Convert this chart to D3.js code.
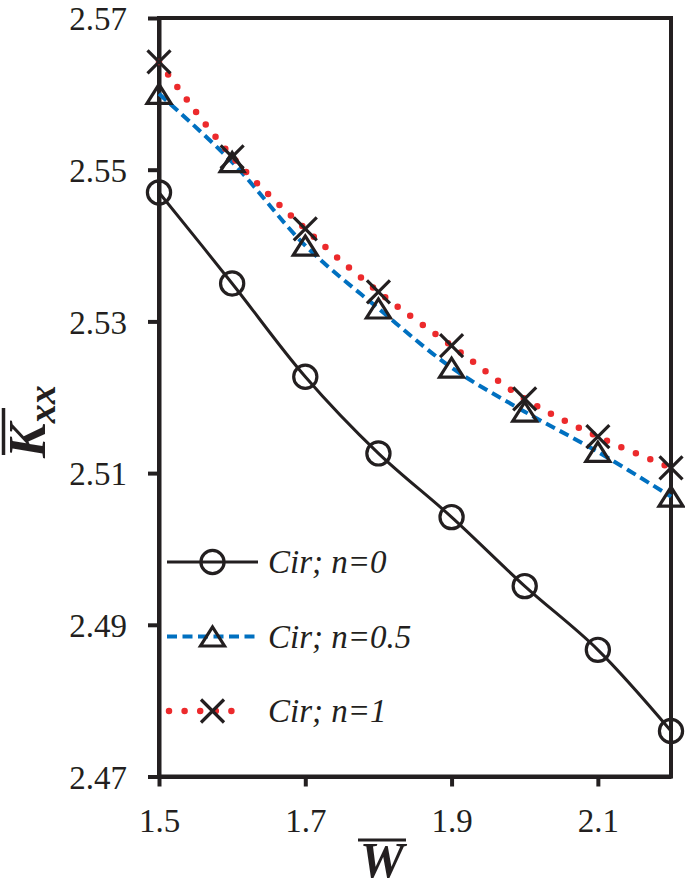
<!DOCTYPE html>
<html>
<head>
<meta charset="utf-8">
<script src="https://cdn.jsdelivr.net/npm/d3@7"></script>
<style>
  body { margin: 0; background: #fff; }
  svg { display: block; }
  text { font-family: "Liberation Serif", Tinos, "Times New Roman", Times, serif; }
</style>
</head>
<body>
<div id="container"></div>
<script>
// data
const wValues = [1.5, 1.6, 1.7, 1.8, 1.9, 2.0, 2.1, 2.2];
const kxxN0 = [2.5470, 2.5350, 2.5227, 2.5126, 2.5042, 2.4951, 2.4867, 2.4760];
const kxxN05 = [2.5600, 2.5510, 2.5400, 2.5317, 2.5239, 2.5181, 2.5128, 2.5069];
const kxxN1 = [2.5642, 2.5517, 2.5422, 2.5339, 2.5268, 2.5198, 2.5148, 2.5107];
const seriesNames = ["Cir; n=0", "Cir; n=0.5", "Cir; n=1"];
const xTicks = [1.5, 1.7, 1.9, 2.1];
const yTicks = [2.47, 2.49, 2.51, 2.53, 2.55, 2.57];

const ink = "#231f20";

let svg = d3.select("#container").
append("svg").
attr("width", 685).
attr("height", 890);

let x = d3.scaleLinear().domain([1.5, 2.2]).range([159, 671]);
let y = d3.scaleLinear().domain([2.47, 2.57]).range([776.5, 18]);

// series styles
let series = [
{ name: seriesNames[0], values: kxxN0, color: ink, width: 3, dash: null, cap: "butt", marker: "circle" },
{ name: seriesNames[1], values: kxxN05, color: "#0070c0", width: 4, dash: "10,5.5", cap: "butt", marker: "triangle" },
{ name: seriesNames[2], values: kxxN1, color: "#ec2a2c", width: 6.5, dash: "0,15.6", cap: "round", marker: "cross" }];


function markerPath(type) {
  if (type === "triangle") return "M-12,9.5L12,9.5L0,-9.5Z";
  if (type === "cross") return "M-11.5,-11.5L11.5,11.5M-11.5,11.5L11.5,-11.5";
  return null;
}

function drawMarker(g, type) {
  if (type === "circle") {
    g.append("circle").attr("r", 11.6).
    attr("fill", "none").attr("stroke", ink).attr("stroke-width", 3.2);
  } else {
    g.append("path").attr("d", markerPath(type)).
    attr("fill", "none").attr("stroke", ink).attr("stroke-width", 3.2).
    attr("stroke-linejoin", "miter");
  }
}

// axes
let xAxis = d3.axisBottom(x).
tickValues(xTicks).
tickSize(10).
tickSizeOuter(0).
tickFormat(d3.format(".1f"));

let yAxis = d3.axisLeft(y).
tickValues(yTicks).
tickSize(11).
tickSizeOuter(0).
tickFormat(d3.format(".2f"));

let gx = svg.append("g").
attr("transform", "translate(0,776.5)").
call(xAxis);

let gy = svg.append("g").
attr("transform", "translate(159,0)").
call(yAxis);

[gx, gy].forEach(g => {
  g.attr("font-family", null).attr("font-size", null);
  g.selectAll("path, line").attr("stroke", ink).attr("stroke-width", 4);
  g.selectAll("text").
  attr("fill", ink).
  style("font-size", "33px");
});

gx.selectAll(".tick text").attr("y", 32).attr("dy", "0.71em");
gy.selectAll(".tick text").attr("x", -32).attr("dy", "0.36em");

// frame
svg.append("rect").
attr("x", x(1.5)).
attr("y", y(2.57)).
attr("width", x(2.2) - x(1.5)).
attr("height", y(2.47) - y(2.57)).
attr("fill", "none").
attr("stroke", ink).
attr("stroke-width", 4);

// lines
let line = d3.line().
x((d, i) => x(wValues[i])).
y(d => y(d)).
curve(d3.curveCatmullRom.alpha(0.5));

series.forEach(s => {
  svg.append("path").
  datum(s.values).
  attr("d", line).
  attr("fill", "none").
  attr("stroke", s.color).
  attr("stroke-width", s.width).
  attr("stroke-dasharray", s.dash).
  attr("stroke-linecap", s.cap);
});

// markers
series.forEach(s => {
  svg.append("g").
  selectAll("g").
  data(s.values).
  enter().
  append("g").
  attr("transform", (d, i) => "translate(" + x(wValues[i]) + "," + y(d) + ")").
  each(function () {drawMarker(d3.select(this), s.marker);});
});

// legend
let legend = svg.append("g").attr("transform", "translate(0,562)");
series.forEach((s, i) => {
  let row = legend.append("g").attr("transform", "translate(0," + i * 74.5 + ")");
  let x0 = s.cap === "round" ? 169 : 167;
  let x1 = s.cap === "round" ? 247 : 258;
  row.append("line").
  attr("x1", x0).attr("x2", x1).
  attr("stroke", s.color).
  attr("stroke-width", s.width).
  attr("stroke-dasharray", s.dash).
  attr("stroke-linecap", s.cap);
  drawMarker(row.append("g").attr("transform", "translate(212.5,0)"), s.marker);
  row.append("text").
  attr("x", 268).
  attr("y", 11).
  attr("fill", ink).
  style("font-style", "italic").
  style("font-size", "33px").
  text(s.name);
});

// x axis title: W with overbar
svg.append("text").
attr("x", 382).
attr("y", 877).
attr("text-anchor", "middle").
attr("fill", ink).
style("font-weight", "bold").
style("font-style", "italic").
style("font-size", "50px").
text("W");
svg.append("line").
attr("x1", 358).attr("x2", 406).
attr("y1", 840).attr("y2", 840).
attr("stroke", ink).attr("stroke-width", 3);

// y axis title: K_xx with overbar
let yTitle = svg.append("text").
attr("transform", "translate(45,458) rotate(-90)").
attr("fill", ink).
style("font-weight", "bold").
style("font-style", "italic");
yTitle.append("tspan").style("font-size", "52px").text("K");
yTitle.append("tspan").attr("dy", 10).style("font-size", "38px").text("xx");
svg.append("line").
attr("x1", 3.5).attr("x2", 3.5).
attr("y1", 408).attr("y2", 455).
attr("stroke", ink).attr("stroke-width", 3.5);
</script>
</body>
</html>
